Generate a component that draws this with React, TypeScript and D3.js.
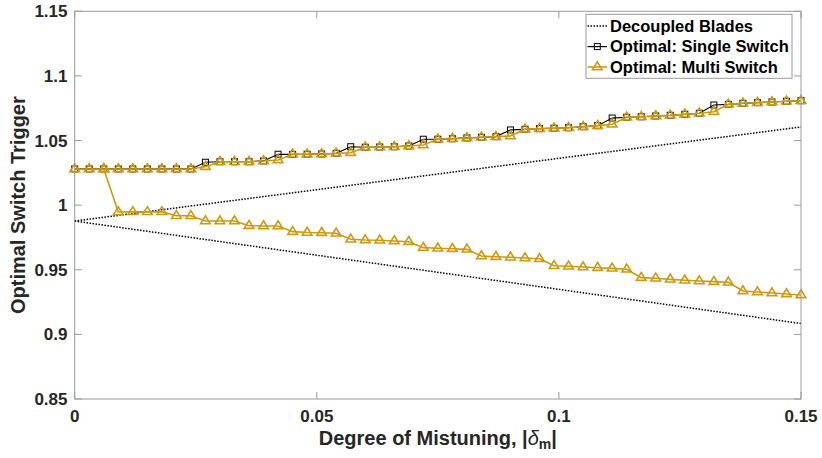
import React from "react";
import * as d3 from "d3";

// ---- data ----
const X = [
  0, 0.003, 0.006, 0.009, 0.012, 0.015, 0.018, 0.021, 0.024, 0.027,
  0.03, 0.033, 0.036, 0.039, 0.042, 0.045, 0.048, 0.051, 0.054, 0.057,
  0.06, 0.063, 0.066, 0.069, 0.072, 0.075, 0.078, 0.081, 0.084, 0.087,
  0.09, 0.093, 0.096, 0.099, 0.102, 0.105, 0.108, 0.111, 0.114, 0.117,
  0.12, 0.123, 0.126, 0.129, 0.132, 0.135, 0.138, 0.141, 0.144, 0.147, 0.15,
];

const SINGLE = [
  1.028, 1.028, 1.028, 1.028, 1.028, 1.028, 1.028, 1.028, 1.028, 1.0332,
  1.0336, 1.0336, 1.0336, 1.0342, 1.0394, 1.0393, 1.0394, 1.0396, 1.0401, 1.0452,
  1.0448, 1.045, 1.0452, 1.0458, 1.051, 1.051, 1.0514, 1.052, 1.0525, 1.053,
  1.0582, 1.0587, 1.0592, 1.0595, 1.0599, 1.0607, 1.0615, 1.0674, 1.068, 1.0684,
  1.069, 1.0695, 1.0703, 1.0711, 1.0775, 1.078, 1.0788, 1.0793, 1.0798, 1.0804, 1.0808,
];

const MULTI_UPPER = [
  1.028, 1.028, 1.028, 1.028, 1.028, 1.028, 1.028, 1.028, 1.028, 1.0298,
  1.0336, 1.0336, 1.0336, 1.0342, 1.0349, 1.0393, 1.0394, 1.0396, 1.0401, 1.0406,
  1.0448, 1.045, 1.0452, 1.0458, 1.0465, 1.051, 1.0514, 1.052, 1.0525, 1.053,
  1.0535, 1.0587, 1.0592, 1.0595, 1.0599, 1.0607, 1.0615, 1.0626, 1.068, 1.0684,
  1.069, 1.0695, 1.0703, 1.0711, 1.0723, 1.078, 1.0788, 1.0793, 1.0798, 1.0804, 1.0808,
];

// lower branch of multi switch, starts at X[2]
const MULTI_LOWER_START = 2;
const MULTI_LOWER = [
  1.028, 0.9947, 0.9948, 0.9948, 0.9948, 0.9918, 0.9918, 0.9877,
  0.9877, 0.9877, 0.9841, 0.9839, 0.9839, 0.9795, 0.9788, 0.9787, 0.9782, 0.9736,
  0.973, 0.9728, 0.9723, 0.9717, 0.9671, 0.9666, 0.9663, 0.9658, 0.9607, 0.9601,
  0.9597, 0.9591, 0.9585, 0.9531, 0.9527, 0.9521, 0.9516, 0.9511, 0.9504, 0.9439,
  0.9434, 0.9426, 0.9419, 0.9413, 0.9408, 0.9403, 0.9336, 0.9328, 0.932, 0.9313, 0.9305,
];

const DECOUPLED_X = [0, 0.15];
const DECOUPLED_UPPER = [0.9877, 1.0605];
const DECOUPLED_LOWER = [0.9877, 0.9084];

const X_TICKS = [0, 0.05, 0.1, 0.15];
const X_TICK_LABELS = ["0", "0.05", "0.1", "0.15"];
const Y_TICKS = [0.85, 0.9, 0.95, 1, 1.05, 1.1, 1.15];
const Y_TICK_LABELS = ["0.85", "0.9", "0.95", "1", "1.05", "1.1", "1.15"];

const LEGEND = ["Decoupled Blades", "Optimal: Single Switch", "Optimal: Multi Switch"];

// ---- style ----
const W = 822;
const H = 458;
const M = { left: 74.7, right: 801, top: 11.3, bottom: 399 };
const FONT = "'Liberation Sans', Arial, Helvetica, sans-serif";
const GOLD = "#cc9a10";
const AXIS = "#9a9a9a";
const TEXT = "#262626";

function Tri({ x, y }: { x: number; y: number }) {
  return (
    <path
      d={`M${x},${y - 5.2} L${x + 4.8},${y + 2.7} L${x - 4.8},${y + 2.7} Z`}
      fill="none"
      stroke={GOLD}
      strokeWidth={1.6}
      strokeLinejoin="miter"
    />
  );
}

function Sq({ x, y }: { x: number; y: number }) {
  return <rect x={x - 3} y={y - 3} width={6} height={6} fill="none" stroke="#000" strokeWidth={1} />;
}

export default function App() {
  const xs = d3.scaleLinear().domain([0, 0.15]).range([M.left, M.right]);
  const ys = d3.scaleLinear().domain([0.85, 1.15]).range([M.bottom, M.top]);

  const line = d3
    .line<[number, number]>()
    .x((d) => xs(d[0]))
    .y((d) => ys(d[1]));

  const single: [number, number][] = X.map((x, i) => [x, SINGLE[i]]);
  const mUp: [number, number][] = X.map((x, i) => [x, MULTI_UPPER[i]]);
  const mLow: [number, number][] = MULTI_LOWER.map((v, i) => [X[i + MULTI_LOWER_START], v]);
  const decU: [number, number][] = DECOUPLED_X.map((x, i) => [x, DECOUPLED_UPPER[i]]);
  const decL: [number, number][] = DECOUPLED_X.map((x, i) => [x, DECOUPLED_LOWER[i]]);

  const TL = 7;
  const lgX0 = 586;
  const lgY0 = 14.3;
  const rows = [26, 46.6, 67];

  return (
    <svg
      width={W}
      height={H}
      style={{ position: "absolute", left: 0, top: 0, background: "#fff" }}
      fontFamily={FONT}
    >
      <rect x={0} y={0} width={W} height={H} fill="#fff" />

      {/* decoupled */}
      <path d={line(decU) || ""} fill="none" stroke="#000" strokeWidth={1.5} strokeDasharray="1.5,1.5" />
      <path d={line(decL) || ""} fill="none" stroke="#000" strokeWidth={1.5} strokeDasharray="1.5,1.5" />

      {/* single switch */}
      <path d={line(single) || ""} fill="none" stroke="#000" strokeWidth={1.2} />
      {single.map((d, i) => (
        <Sq key={"s" + i} x={xs(d[0])} y={ys(d[1])} />
      ))}

      {/* multi switch */}
      <path d={line(mUp) || ""} fill="none" stroke={GOLD} strokeWidth={1.6} />
      <path d={line(mLow) || ""} fill="none" stroke={GOLD} strokeWidth={1.6} />
      {mUp.map((d, i) => (
        <Tri key={"u" + i} x={xs(d[0])} y={ys(d[1])} />
      ))}
      {mLow.map((d, i) => (
        <Tri key={"l" + i} x={xs(d[0])} y={ys(d[1])} />
      ))}

      {/* axes box */}
      <rect
        x={M.left}
        y={M.top}
        width={M.right - M.left}
        height={M.bottom - M.top}
        fill="none"
        stroke={AXIS}
        strokeWidth={1}
      />
      {X_TICKS.map((t, i) => (
        <g key={"xt" + i}>
          <line x1={xs(t)} x2={xs(t)} y1={M.bottom} y2={M.bottom - TL} stroke={AXIS} />
          <line x1={xs(t)} x2={xs(t)} y1={M.top} y2={M.top + TL} stroke={AXIS} />
          <text
            x={xs(t)}
            y={421.5}
            textAnchor="middle"
            fontSize={17}
            fontWeight="bold"
            fill={TEXT}
          >
            {X_TICK_LABELS[i]}
          </text>
        </g>
      ))}
      {Y_TICKS.map((t, i) => (
        <g key={"yt" + i}>
          <line x1={M.left} x2={M.left + TL} y1={ys(t)} y2={ys(t)} stroke={AXIS} />
          <line x1={M.right} x2={M.right - TL} y1={ys(t)} y2={ys(t)} stroke={AXIS} />
          <text
            x={67.5}
            y={ys(t) + 6.1}
            textAnchor="end"
            fontSize={17}
            fontWeight="bold"
            fill={TEXT}
          >
            {Y_TICK_LABELS[i]}
          </text>
        </g>
      ))}

      {/* axis labels */}
      <text
        x={(M.left + M.right) / 2}
        y={445}
        textAnchor="middle"
        fontSize={20}
        fontWeight="bold"
        fill={TEXT}
      >
        Degree of Mistuning, |
        <tspan fontStyle="italic" fontWeight="normal">δ</tspan>
        <tspan fontSize={14} dy={4}>m</tspan>
        <tspan dy={-4}>|</tspan>
      </text>
      <text
        transform={`translate(25,${(M.top + M.bottom) / 2}) rotate(-90)`}
        textAnchor="middle"
        fontSize={20}
        fontWeight="bold"
        fill={TEXT}
      >
        Optimal Switch Trigger
      </text>

      {/* legend */}
      <rect x={lgX0} y={lgY0} width={206} height={64} fill="#fff" stroke={AXIS} strokeWidth={1} />
      <line x1={587.5} x2={607} y1={rows[0]} y2={rows[0]} stroke="#000" strokeWidth={1.5} strokeDasharray="1.5,1.5" />
      <line x1={587.5} x2={607} y1={rows[1]} y2={rows[1]} stroke="#000" strokeWidth={1.2} />
      <Sq x={597.3} y={rows[1]} />
      <line x1={587.5} x2={607} y1={rows[2]} y2={rows[2]} stroke={GOLD} strokeWidth={1.6} />
      <Tri x={597.3} y={rows[2]} />
      {LEGEND.map((s, i) => (
        <text key={"lg" + i} x={610} y={rows[i] + 5.8} fontSize={16.5} fontWeight="bold" fill="#000">
          {s}
        </text>
      ))}
    </svg>
  );
}
